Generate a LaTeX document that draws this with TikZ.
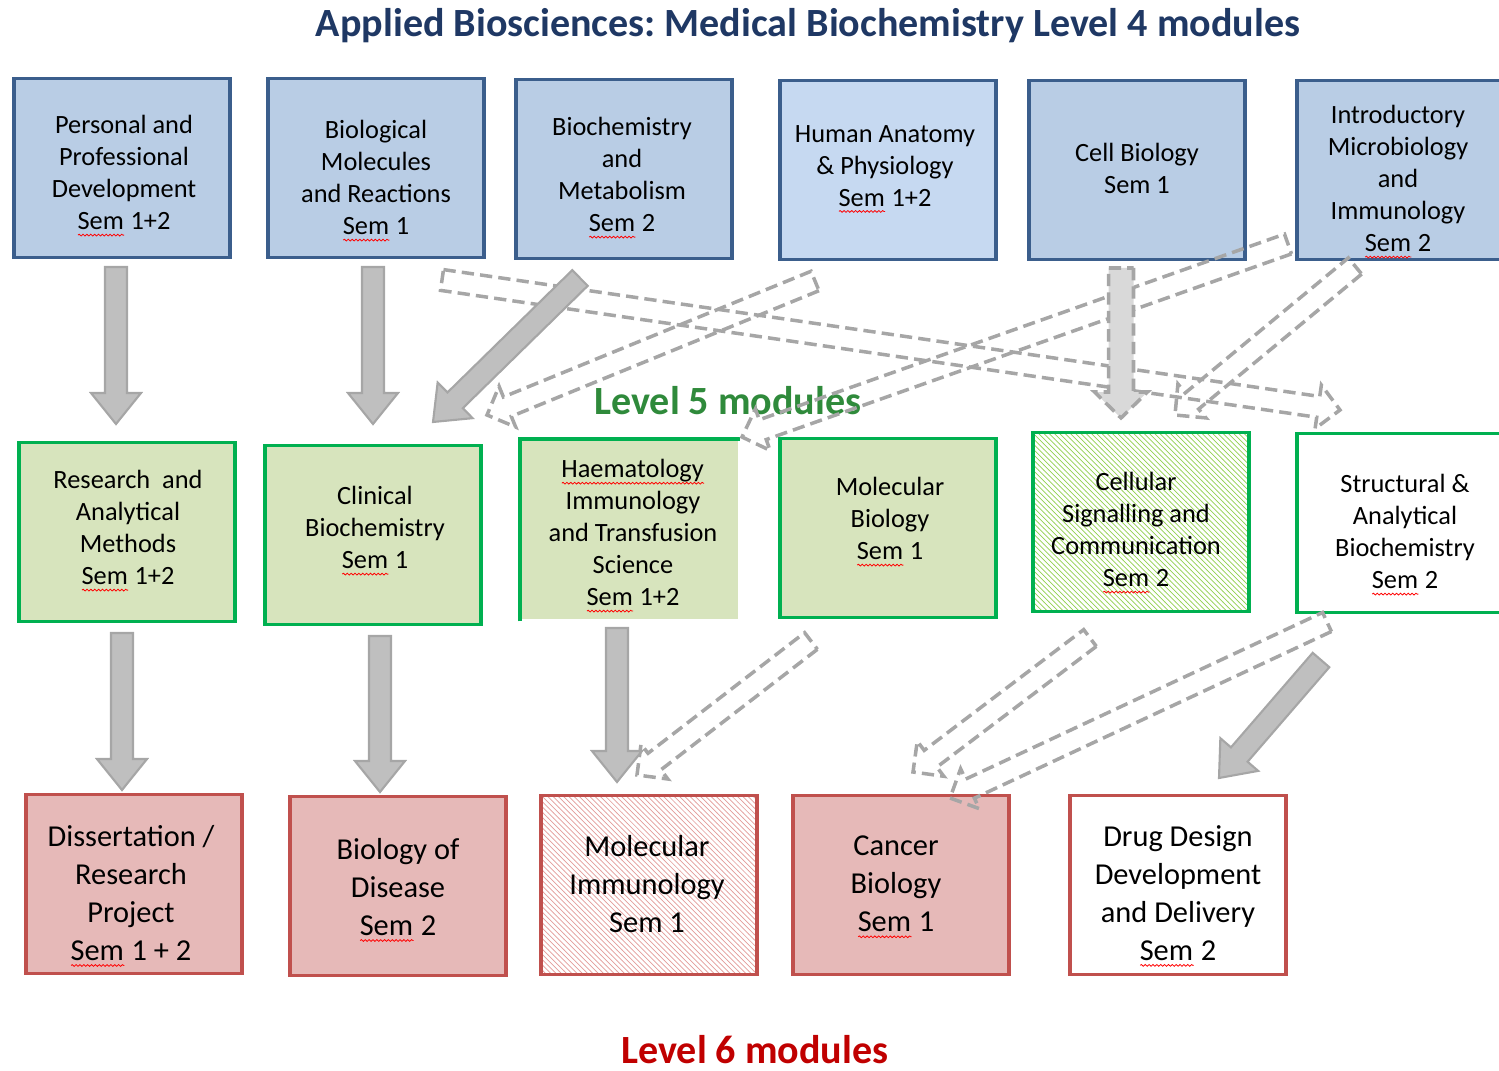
\documentclass[tikz,border=0pt]{standalone}
\usepackage{fontspec}
\setmainfont{Carlito}
\usetikzlibrary{calc,patterns,decorations.pathmorphing}

\definecolor{navy}{HTML}{1F3864}
\definecolor{lvgreen}{HTML}{2F8A3B}
\definecolor{lvred}{HTML}{C00000}
\definecolor{blueline}{HTML}{3B5E8C}
\definecolor{bluefill}{HTML}{B9CDE5}
\definecolor{bluelight}{HTML}{C6D9F1}
\definecolor{greenline}{HTML}{00B050}
\definecolor{greenfill}{HTML}{D7E4BD}
\definecolor{greenhatch}{HTML}{92D050}
\definecolor{redline}{HTML}{C0504D}
\definecolor{redfill}{HTML}{E6B9B8}
\definecolor{redhatch}{HTML}{E39C9A}
\definecolor{arrgray}{HTML}{A6A6A6}
\definecolor{arrfill}{HTML}{BFBFBF}
\definecolor{arrlight}{HTML}{D9D9D9}

% spell-check wave under a word
\newsavebox{\sqbox}
\newlength{\sqlen}
\newcommand{\squig}[1]{\sbox{\sqbox}{#1}\setlength{\sqlen}{\wd\sqbox}%
  \rlap{\usebox{\sqbox}}\tikz[baseline=3pt]\draw[red,line width=0.45pt,decorate,
    decoration={snake,amplitude=0.5pt,segment length=2.2pt}] (0pt,0pt) -- (\sqlen,0pt);}

% block arrow: style, shaft half width, head half width, head length, from, to
\newcommand{\blockarrow}[6]{%
  \coordinate (ab) at ($(#6)!#4!(#5)$);
  \draw[#1] ($(#5)!#2!90:(#6)$) -- ($(ab)!#2!-90:(#5)$) -- ($(ab)!#3!-90:(#5)$) -- (#6)
    -- ($(ab)!#3!90:(#5)$) -- ($(ab)!#2!90:(#5)$) -- ($(#5)!#2!-90:(#6)$) -- cycle;
}
\newcommand{\solidarrow}[2]{\blockarrow{solidarr}{0.22cm}{0.5cm}{0.62cm}{#1}{#2}}
\newcommand{\dasharrow}[2]{\blockarrow{dasharr}{0.21cm}{0.44cm}{0.44cm}{#1}{#2}}

\begin{document}
\begin{tikzpicture}[x=0.02cm,y=-0.02cm,
    modbox/.style={minimum width=4.32cm,minimum height=3.58cm,line width=2.2pt,inner sep=0pt},
    lvfour/.style={modbox,draw=blueline,fill=bluefill},
    lvfive/.style={modbox,draw=greenline,fill=greenfill},
    lvsix/.style={modbox,draw=redline,fill=redfill},
    modtext/.style={align=center,inner sep=0pt,font=\fontsize{15}{18.2}\selectfont},
    sixtext/.style={modtext,font=\fontsize{17.3}{21.6}\selectfont},
    heading/.style={inner sep=0pt,font=\fontsize{22.8}{27}\selectfont\bfseries\frenchspacing},
    solidarr/.style={fill=arrfill,draw=arrgray,line width=1.2pt},
    dasharr/.style={draw=arrgray,line width=2pt,dash pattern=on 7pt off 3.5pt},
    lightarr/.style={dasharr,fill=arrlight}]
\useasboundingbox (0,0) rectangle (1499,1071);

\node[heading,text=navy] (title) at (808,26) {Applied Biosciences: Medical Biochemistry Level 4 modules};

% level 4
\node[lvfour] (pers) at (122,168) {};
\node[lvfour] (biomol) at (376,168) {};
\node[lvfour] (biochem) at (624,169) {};
\node[lvfour,fill=bluelight] (anat) at (888,170) {};
\node[lvfour] (cellb) at (1137,170) {};
\node[lvfour] (micro) at (1405,170) {};
\node[modtext] (pers-t) at ($(pers)+(2,8)$) {Personal and\\Professional\\Development\\\squig{Sem} 1+2};
\node[modtext] (biomol-t) at ($(biomol)+(0,13)$) {Biological\\Molecules\\and Reactions\\\squig{Sem} 1};
\node[modtext] (biochem-t) at ($(biochem)+(-2,9)$) {Biochemistry\\and\\Metabolism\\\squig{Sem} 2};
\node[modtext] (anat-t) at ($(anat)+(-3,-1)$) {Human Anatomy\\\& Physiology\\\squig{Sem} 1+2};
\node[modtext] (cellb-t) at ($(cellb)+(0,-2)$) {Cell Biology\\Sem 1};
\node[modtext] (micro-t) at ($(micro)+(-7,12)$) {Introductory\\Microbiology\\and\\Immunology\\\squig{Sem} 2};

% level 5
\node[heading,text=lvgreen] (lev5) at (728,401) {Level 5 modules};
\node[lvfive] (resm) at (127,532) {};
\node[lvfive] (clinb) at (373,535) {};
\node[lvfive,draw=none] (haem) at (630,530) {};
\draw[greenline,line width=2.2pt] (haem.south west) |- (haem.north east);
\node[lvfive] (molb) at (888,528) {};
\node[lvfive,fill=none,preaction={fill=white},pattern=north west lines,pattern color=greenhatch] (cellsig) at (1141,522) {};
\node[lvfive,fill=white] (struct) at (1405,523) {};
\node[modtext] (resm-t) at ($(resm)+(1,-1)$) {Research~ and\\Analytical\\Methods\\\squig{Sem} 1+2};
\node[modtext] (clinb-t) at ($(clinb)+(2,-4)$) {Clinical\\Biochemistry\\\squig{Sem} 1};
\node[modtext] (haem-t) at ($(haem)+(3,6)$) {\squig{Haematology}\\Immunology\\and Transfusion\\Science\\\squig{Sem} 1+2};
\node[modtext] (molb-t) at ($(molb)+(2,-6)$) {Molecular\\Biology\\\squig{Sem} 1};
\node[modtext] (cellsig-t) at ($(cellsig)+(-5,11)$) {Cellular\\Signalling and\\Communication\\\squig{Sem} 2};
\node[modtext] (struct-t) at ($(struct)+(0,12)$) {Structural \&\\Analytical\\Biochemistry\\\squig{Sem} 2};

% level 6
\node[lvsix] (diss) at (134,884) {};
\node[lvsix] (biodis) at (398,886) {};
\node[lvsix,fill=none,preaction={fill=white},pattern=north west lines,pattern color=redhatch] (molimm) at (649,885) {};
\node[lvsix] (cancer) at (901,885) {};
\node[lvsix,fill=white] (drug) at (1178,885) {};
\node[sixtext] (diss-t) at ($(diss)+(-3,12)$) {Dissertation /\\Research\\Project\\\squig{Sem} 1 + 2};
\node[sixtext] (biodis-t) at ($(biodis)+(0,4)$) {Biology of\\Disease\\\squig{Sem} 2};
\node[sixtext] (molimm-t) at ($(molimm)+(-2,-1)$) {Molecular\\Immunology\\Sem 1};
\node[sixtext] (cancer-t) at ($(cancer)+(-5,2)$) {Cancer\\Biology\\\squig{Sem} 1};
\node[sixtext] (drug-t) at ($(drug)+(0,11)$) {Drug Design\\Development\\and Delivery\\\squig{Sem} 2};
\node[heading,text=lvred] (lev6) at (755,1050) {Level 6 modules};

% arrow ends
\coordinate (a1s) at (116,267); \coordinate (a1e) at (116,424);
\coordinate (a2s) at (373,267); \coordinate (a2e) at (373,424);
\coordinate (a3s) at (580,278); \coordinate (a3e) at (433,422);
\coordinate (c1s) at (1121,268); \coordinate (c1e) at (1121,418);
\coordinate (d1s) at (442,280); \coordinate (d1e) at (1340,410);
\coordinate (d2s) at (815,281); \coordinate (d2e) at (487,415);
\coordinate (d3s) at (1288,244); \coordinate (d3e) at (742,437);
\coordinate (d4s) at (1355,266); \coordinate (d4e) at (1175,415);
\coordinate (b1s) at (122,633); \coordinate (b1e) at (122,790);
\coordinate (b2s) at (380,636); \coordinate (b2e) at (380,792);
\coordinate (b3s) at (617,628); \coordinate (b3e) at (617,782);
\coordinate (b4s) at (1321,660); \coordinate (b4e) at (1219,778);
\coordinate (d5s) at (811,641); \coordinate (d5e) at (637,775);
\coordinate (d6s) at (1090,638); \coordinate (d6e) at (913,772);
\coordinate (d7s) at (1327,622); \coordinate (d7e) at (950,798);

% dashed links
\dasharrow{d1s}{d1e}
\dasharrow{d2s}{d2e}
\dasharrow{d3s}{d3e}
\dasharrow{d4s}{d4e}
\dasharrow{d5s}{d5e}
\dasharrow{d6s}{d6e}
\dasharrow{d7s}{d7e}

% solid links
\solidarrow{a1s}{a1e}
\solidarrow{a2s}{a2e}
\solidarrow{a3s}{a3e}
\blockarrow{lightarr}{0.25cm}{0.53cm}{0.52cm}{c1s}{c1e}
\solidarrow{b1s}{b1e}
\solidarrow{b2s}{b2e}
\solidarrow{b3s}{b3e}
\solidarrow{b4s}{b4e}
\end{tikzpicture}
\end{document}
